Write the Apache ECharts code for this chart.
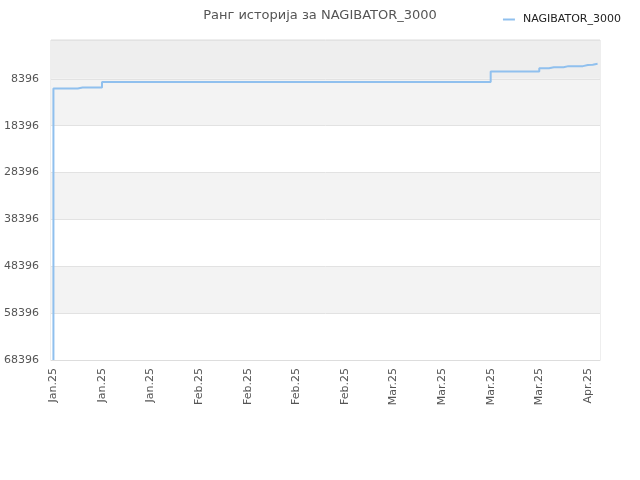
<!DOCTYPE html>
<html>
<head>
<meta charset="utf-8">
<script src="https://cdn.jsdelivr.net/npm/echarts@6/dist/echarts.min.js"></script>
<style>html,body{margin:0;padding:0;background:#fff}#c{width:640px;height:480px}</style>
</head>
<body>
<div id="c"></div>
<script>
var titleText = 'Ранг историја за NAGIBATOR_3000';
var seriesName = 'NAGIBATOR_3000';

var categories = [
  'Jan.25','Jan.25','Jan.25','Jan.25','Jan.25','Jan.25','Jan.25','Jan.25','Jan.25','Jan.25',
  'Jan.25','Jan.25','Jan.25','Jan.25','Jan.25','Jan.25','Jan.25','Jan.25','Jan.25','Jan.25',
  'Jan.25','Jan.25','Jan.25','Jan.25','Jan.25','Jan.25','Jan.25','Jan.25','Jan.25','Jan.25',
  'Feb.25','Feb.25','Feb.25','Feb.25','Feb.25','Feb.25','Feb.25','Feb.25','Feb.25','Feb.25',
  'Feb.25','Feb.25','Feb.25','Feb.25','Feb.25','Feb.25','Feb.25','Feb.25','Feb.25','Feb.25',
  'Feb.25','Feb.25','Feb.25','Feb.25','Feb.25','Feb.25','Feb.25','Feb.25','Feb.25','Feb.25',
  'Feb.25','Feb.25','Feb.25','Feb.25','Feb.25','Feb.25','Feb.25','Feb.25','Mar.25','Mar.25',
  'Mar.25','Mar.25','Mar.25','Mar.25','Mar.25','Mar.25','Mar.25','Mar.25','Mar.25','Mar.25',
  'Mar.25','Mar.25','Mar.25','Mar.25','Mar.25','Mar.25','Mar.25','Mar.25','Mar.25','Mar.25',
  'Mar.25','Mar.25','Mar.25','Mar.25','Mar.25','Mar.25','Mar.25','Mar.25','Mar.25','Mar.25',
  'Mar.25','Mar.25','Mar.25','Mar.25','Mar.25','Mar.25','Mar.25','Mar.25','Mar.25','Apr.25',
  'Apr.25','Apr.25','Apr.25'
];

var ranks = [
  68396,10470,10470,10470,10470,10470,10255,10255,10255,10255,
  10255,9080,9080,9080,9080,9080,9080,9080,9080,9080,
  9080,9080,9080,9080,9080,9080,9080,9080,9080,9080,
  9080,9080,9080,9080,9080,9080,9080,9080,9080,9080,
  9080,9080,9080,9080,9080,9080,9080,9080,9080,9080,
  9080,9080,9080,9080,9080,9080,9080,9080,9080,9080,
  9080,9080,9080,9080,9080,9080,9080,9080,9080,9080,
  9080,9080,9080,9080,9080,9080,9080,9080,9080,9080,
  9080,9080,9080,9080,9080,9080,9080,9080,9080,9080,
  9080,6836,6836,6836,6836,6836,6836,6836,6836,6836,
  6836,6131,6131,5917,5917,5917,5680,5680,5680,5680,
  5420,5370,5190
];

var yMin = 100;
var yMax = 68396;
var yTickLabels = [8396, 18396, 28396, 38396, 48396, 58396, 68396];
var yTickLines = [100, 8396, 18396, 28396, 38396, 48396, 58396, 68396];

var chart = echarts.init(document.getElementById('c'));
chart.setOption({
  animation: false,
  backgroundColor: '#ffffff',
  textStyle: { fontFamily: 'DejaVu Sans' },
  title: {
    text: titleText,
    left: 'center',
    top: 4,
    textStyle: { fontSize: 13, fontWeight: 'normal', color: '#555555', fontFamily: 'DejaVu Sans' }
  },
  legend: {
    data: [seriesName],
    right: 14,
    top: 9,
    icon: 'rect',
    itemWidth: 12,
    itemHeight: 2,
    itemGap: 8,
    textStyle: { fontSize: 11, color: '#222222', fontFamily: 'DejaVu Sans', padding: [0, 0, 0, 3] }
  },
  grid: {
    left: 51, right: 40, top: 40, bottom: 120,
    containLabel: false,
    outerBoundsMode: 'none',
    show: true, borderColor: '#dddddd', borderWidth: 1, backgroundColor: 'transparent'
  },
  xAxis: {
    type: 'category',
    data: categories,
    boundaryGap: true,
    axisLine: { show: true, lineStyle: { color: '#dddddd' } },
    axisTick: { show: false },
    axisLabel: { interval: 9, rotate: 90, fontSize: 11, color: '#555555', margin: 8, fontFamily: 'DejaVu Sans' },
    splitLine: { show: false }
  },
  yAxis: {
    type: 'value',
    inverse: true,
    min: yMin,
    max: yMax,
    axisLine: { show: false },
    axisTick: { show: false, customValues: yTickLines },
    axisLabel: {
      customValues: yTickLabels, fontSize: 11, color: '#555555', margin: 12, fontFamily: 'DejaVu Sans',
      formatter: function (v) { return String(v); }
    },
    splitLine: { show: true, lineStyle: { color: '#e2e2e2', width: 1 } },
    splitArea: {
      show: true,
      areaStyle: { color: ['#eeeeee', '#f3f3f3', '#ffffff', '#f3f3f3', '#ffffff', '#f3f3f3', '#ffffff'] }
    }
  },
  series: [{
    name: seriesName,
    type: 'line',
    step: 'start',
    data: ranks,
    showSymbol: false,
    symbol: 'none',
    color: '#90c0ee',
    lineStyle: { color: '#90c0ee', width: 2 }
  }]
});
</script>
</body>
</html>
